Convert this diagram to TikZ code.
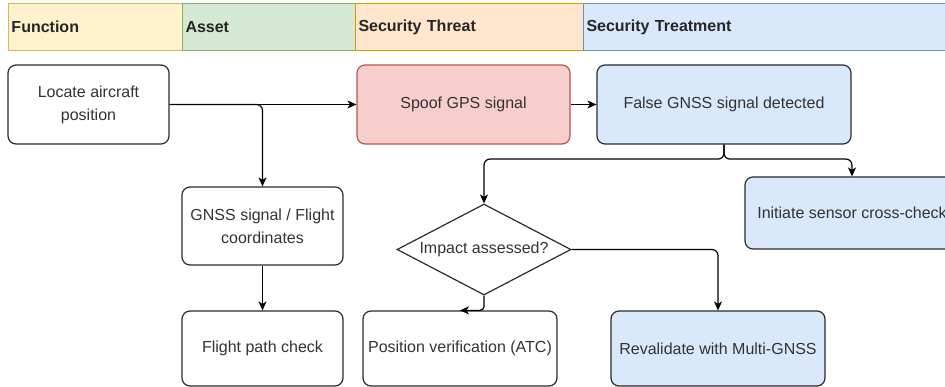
\documentclass[tikz,border=0pt]{standalone}
\usepackage{fontspec}
\setmainfont{Liberation Sans}
\usetikzlibrary{shapes.geometric,arrows.meta}
\definecolor{fnfill}{HTML}{FFF2CC}\definecolor{fndraw}{HTML}{D6B656}
\definecolor{asfill}{HTML}{D5E8D4}\definecolor{asdraw}{HTML}{82B366}
\definecolor{thfill}{HTML}{FFE6CC}\definecolor{thdraw}{HTML}{D79B00}
\definecolor{trfill}{HTML}{DAE8FC}\definecolor{trdraw}{HTML}{6C8EBF}
\definecolor{redfill}{HTML}{F8CECC}\definecolor{reddraw}{HTML}{B85450}
\definecolor{txt}{HTML}{333333}
\definecolor{boxdraw}{HTML}{2B2B2B}
\begin{document}
\begin{tikzpicture}[x=1pt,y=-1pt,
  every node/.style={font=\fontsize{16}{23}\selectfont, text=txt},
  band/.style={line width=1pt, anchor=north west, minimum height=47pt, inner xsep=3pt, inner ysep=0pt, align=left, font=\fontsize{16}{23}\selectfont\bfseries, text=black!85},
  box/.style={draw=boxdraw, line width=1.2pt, rounded corners=8pt, fill=white, align=center, inner sep=0pt},
  redbox/.style={box, fill=redfill, draw=reddraw},
  bluebox/.style={box, fill=trfill},
  decision/.style={diamond, draw=boxdraw, line width=1.2pt, fill=white, inner sep=0pt, aspect=1.9, align=center},
  conn/.style={draw=black, line width=1.2pt, -{Stealth[length=9pt,width=8pt,inset=2.5pt]}, rounded corners=6pt}
]
\useasboundingbox (0,0) rectangle (945,387);
\clip (0,0) rectangle (945,387);

% header bands
\node[band, fill=fnfill, draw=fndraw, minimum width=174pt, text width=168pt] (hfn) at (8,3) {Function};
\node[band, fill=asfill, draw=asdraw, minimum width=173pt, text width=167pt] (has) at (182,3) {Asset};
\node[band, fill=thfill, draw=thdraw, minimum width=228pt, text width=222pt] (hth) at (355,3) {Security Threat};
\node[band, fill=trfill, draw=trdraw, minimum width=380pt, text width=374pt] (htr) at (583,3) {Security Treatment};

% nodes
\node[box, minimum width=161pt, minimum height=79pt] (loc) at (88.5,104.5) {Locate aircraft\\position};
\node[redbox, minimum width=213pt, minimum height=79pt] (spoof) at (463.5,104.5) {Spoof GPS signal};
\node[bluebox, minimum width=254pt, minimum height=79pt] (false) at (724,104.5) {False GNSS signal detected};
\node[box, minimum width=161pt, minimum height=78pt] (gnss) at (262.5,226) {GNSS signal / Flight\\coordinates};
\node[box, minimum width=161pt, minimum height=75pt] (fpc) at (262.5,348.5) {Flight path check};
\node[decision, minimum width=174pt, minimum height=91pt] (dia) at (484,249.5) {Impact assessed?};
\node[box, minimum width=194pt, minimum height=75pt] (posv) at (460,348.5) {Position verification (ATC)};
\node[bluebox, minimum width=214pt, minimum height=75pt] (reval) at (718,348.5) {Revalidate with Multi-GNSS};
\node[bluebox, minimum width=214pt, minimum height=72pt] (init) at (852,213) {Initiate sensor cross-check};

% connectors
\draw[conn] (loc.east) -- (spoof.west);
\draw[conn] (loc.east) -| (gnss.north);
\draw[conn] (gnss.south) -- (fpc.north);
\draw[conn] (spoof.east) -- (false.west);
\draw[conn] (false.south) -- ++(0,14.5) -| (dia.north);
\draw[conn] (false.south) -- ++(0,14.5) -| (init.north);
\draw[conn] (dia.east) -| (reval.north);
\draw[conn, rounded corners=4pt] (dia.south) |- (posv.north);
\end{tikzpicture}
\end{document}
